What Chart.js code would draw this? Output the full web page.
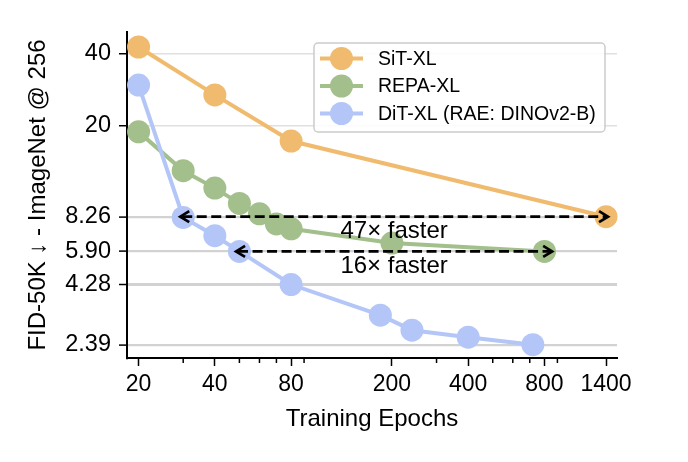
<!DOCTYPE html>
<html>
<head>
<meta charset="utf-8">
<script src="https://cdn.jsdelivr.net/npm/chart.js@4.4.1/dist/chart.umd.min.js"></script>
<style>
html, body { margin: 0; padding: 0; background: #fff; }
#wrap { width: 688px; height: 462px; }
</style>
</head>
<body>
<div id="wrap"><canvas id="fid_chart" width="688" height="462"></canvas></div>
<script>
// values (log-log)
const epochs_sit = [20, 40, 80, 1400];
const fid_sit = [42.8, 26.9, 17.2, 8.26];
const epochs_repa = [20, 30, 40, 50, 60, 70, 80, 200, 800];
const fid_repa = [18.8, 12.9, 10.9, 9.4, 8.5, 7.7, 7.35, 6.4, 5.90];
const epochs_rae = [20, 30, 40, 50, 80, 180, 240, 400, 720];
const fid_rae = [29.6, 8.2, 6.87, 5.90, 4.28, 3.18, 2.75, 2.57, 2.39];

const x_ticks = [20, 40, 80, 200, 400, 800, 1400];
const x_minor = [30, 50, 60, 70, 90, 300, 500, 600, 700, 900];
const y_ticks = [2.39, 4.28, 5.90, 8.26, 20, 40];
const y_tick_labels = ['2.39', '4.28', '5.90', '8.26', '20', '40'];

const speedups = [
    { label: '47× faster', from: 29.2, to: 1426, y: 8.26 },
    { label: '16× faster', from: 48.5, to: 858, y: 5.90 }
];

const FONT = "'Liberation Sans', Arial, sans-serif";
Chart.defaults.font.family = FONT;
Chart.defaults.color = '#000';

const pts = (xs, ys) => xs.map((x, i) => ({ x: x, y: ys[i] }));

function series(label, xs, ys, color, order) {
    return {
        type: 'line',
        label: label,
        data: pts(xs, ys),
        borderColor: color,
        backgroundColor: color,
        pointBackgroundColor: color,
        pointBorderColor: color,
        borderWidth: 4,
        pointRadius: 11.5,
        pointBorderWidth: 0,
        tension: 0,
        clip: false,
        order: order
    };
}

const data = {
    datasets: [
        series('SiT-XL', epochs_sit, fid_sit, '#f0bb6e', 2),
        series('REPA-XL', epochs_repa, fid_repa, '#a2bf8c', 1),
        series('DiT-XL (RAE: DINOv2-B)', epochs_rae, fid_rae, '#b3c6f7', 0)
    ]
};

// arrows, labels, minor ticks and the legend box
const overlay = {
    id: 'overlay',
    afterDatasetsDraw(chart) {
        const ctx = chart.ctx;
        const xs = chart.scales.x, ys = chart.scales.y;
        ctx.save();

        ctx.strokeStyle = '#000';
        ctx.lineWidth = 1.5;
        x_minor.forEach(v => {
            const px = xs.getPixelForValue(v);
            ctx.beginPath();
            ctx.moveTo(px, ys.bottom);
            ctx.lineTo(px, ys.bottom + 5);
            ctx.stroke();
        });

        speedups.forEach(s => {
            const x0 = xs.getPixelForValue(s.from);
            const x1 = xs.getPixelForValue(s.to);
            const y = ys.getPixelForValue(s.y);
            ctx.lineWidth = 2.7;
            ctx.setLineDash([10, 4.5]);
            ctx.beginPath();
            ctx.moveTo(x0 + 2, y);
            ctx.lineTo(x1 - 2, y);
            ctx.stroke();
            ctx.setLineDash([]);
            ctx.beginPath();
            ctx.moveTo(x0 + 9, y - 5.5);
            ctx.lineTo(x0, y);
            ctx.lineTo(x0 + 9, y + 5.5);
            ctx.moveTo(x1 - 9, y - 5.5);
            ctx.lineTo(x1, y);
            ctx.lineTo(x1 - 9, y + 5.5);
            ctx.stroke();

            ctx.fillStyle = '#000';
            ctx.font = '24px ' + FONT;
            ctx.textAlign = 'center';
            ctx.textBaseline = 'middle';
            ctx.fillText(s.label, (x0 + x1) / 2, y + 15);
        });

        // legend
        const lx = 314, ly = 43, lw = 291, lh = 89;
        ctx.fillStyle = 'rgba(255,255,255,0.85)';
        ctx.strokeStyle = '#cccccc';
        ctx.lineWidth = 1.5;
        ctx.beginPath();
        ctx.roundRect(lx, ly, lw, lh, 4);
        ctx.fill();
        ctx.stroke();
        chart.data.datasets.forEach((d, i) => {
            const cy = 58.5 + i * 27.5;
            ctx.strokeStyle = d.borderColor;
            ctx.lineWidth = 4;
            ctx.beginPath();
            ctx.moveTo(320, cy);
            ctx.lineTo(363, cy);
            ctx.stroke();
            ctx.fillStyle = d.borderColor;
            ctx.beginPath();
            ctx.arc(341.5, cy, 11.5, 0, Math.PI * 2);
            ctx.fill();
            ctx.fillStyle = '#000';
            ctx.font = '19.5px ' + FONT;
            ctx.textAlign = 'left';
            ctx.textBaseline = 'middle';
            ctx.fillText(d.label, 378, cy + 1);
        });
        ctx.restore();
    }
};

const fid_chart = new Chart(document.getElementById('fid_chart').getContext('2d'), {
    data: data,
    plugins: [overlay],
    options: {
        responsive: false,
        animation: false,
        layout: { padding: { left: 0, top: 32, right: 71, bottom: 0 } },
        plugins: { legend: { display: false }, tooltip: { enabled: false } },
        scales: {
            x: {
                type: 'logarithmic',
                min: 18,
                max: 1547,
                bounds: 'data',
                afterBuildTicks: scale => { scale.ticks = x_ticks.map(v => ({ value: v })); },
                afterFit: scale => { scale.height = 104; },
                ticks: {
                    autoSkip: false,
                    maxRotation: 0,
                    minRotation: 0,
                    padding: 5,
                    font: { size: 23 },
                    callback: v => String(v)
                },
                grid: { drawOnChartArea: false, tickLength: 8, tickColor: '#000', tickWidth: 1.5 },
                border: { color: '#000', width: 2 },
                title: {
                    display: true,
                    text: 'Training Epochs',
                    font: { size: 24 },
                    padding: { top: 0, bottom: 28 }
                }
            },
            y: {
                type: 'logarithmic',
                min: 2.10,
                max: 49.5,
                bounds: 'data',
                afterBuildTicks: scale => { scale.ticks = y_ticks.map(v => ({ value: v })); },
                afterFit: scale => { scale.width = 127; },
                ticks: {
                    autoSkip: false,
                    padding: 8,
                    font: { size: 23.5 },
                    callback: (v, i) => y_tick_labels[y_ticks.indexOf(v)] ?? ''
                },
                grid: {
                    color: c => (c.tick && c.tick.value >= 20) ? '#e0e0e0' : '#d2d2d2',
                    lineWidth: c => (c.tick && c.tick.value >= 20) ? 1.5 : (c.tick && c.tick.value === 4.28 ? 3 : 2.2),
                    tickLength: 8,
                    tickColor: '#000',
                    tickWidth: 1.5
                },
                border: { color: '#000', width: 2 },
                title: {
                    display: true,
                    text: 'FID-50K ↓ - ImageNet @ 256',
                    font: { size: 24 },
                    padding: { top: 24, bottom: 0 }
                }
            }
        }
    }
});
</script>
</body>
</html>
